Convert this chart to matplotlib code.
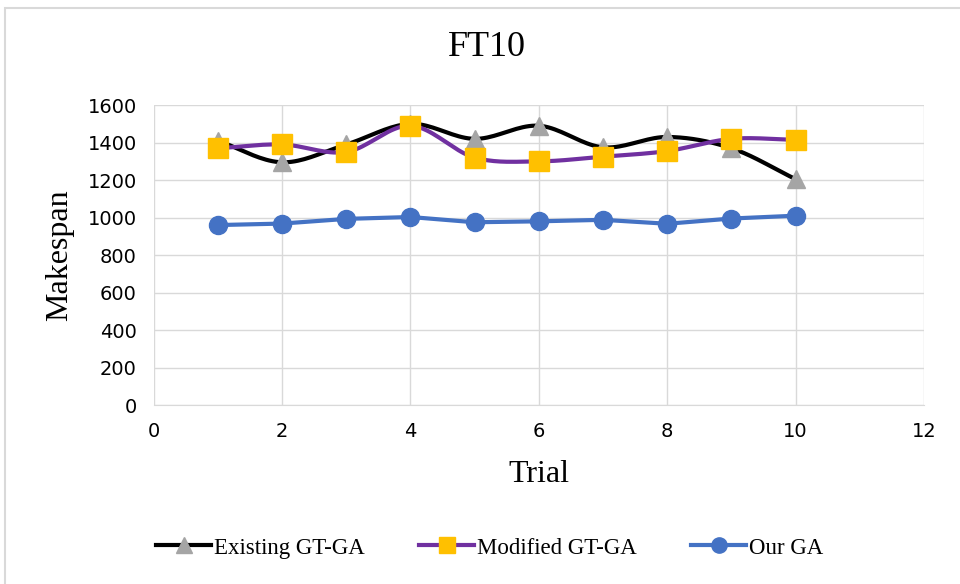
import numpy as np
import matplotlib
matplotlib.use("Agg")
import matplotlib.pyplot as plt
from matplotlib.patches import Rectangle

trials = [1, 2, 3, 4, 5, 6, 7, 8, 9, 10]
existing = [1410, 1295, 1390, 1500, 1420, 1490, 1375, 1430, 1370, 1205]
modified = [1370, 1390, 1350, 1490, 1320, 1300, 1325, 1355, 1420, 1415]
our_ga = [960, 968, 993, 1003, 975, 980, 988, 967, 995, 1010]


def smooth(xs, ys, n=20):
    # Catmull-Rom style curve through the points, like Excel's smoothed line
    x = np.asarray(xs, float)
    y = np.asarray(ys, float)
    px = np.concatenate([[2 * x[0] - x[1]], x, [2 * x[-1] - x[-2]]])
    py = np.concatenate([[2 * y[0] - y[1]], y, [2 * y[-1] - y[-2]]])
    out_x, out_y = [], []
    t = np.linspace(0, 1, n, endpoint=False)
    for i in range(1, len(px) - 2):
        for p, out in ((px, out_x), (py, out_y)):
            p0, p1, p2, p3 = p[i - 1], p[i], p[i + 1], p[i + 2]
            out.extend(0.5 * (2 * p1 + (-p0 + p2) * t
                              + (2 * p0 - 5 * p1 + 4 * p2 - p3) * t ** 2
                              + (-p0 + 3 * p1 - 3 * p2 + p3) * t ** 3))
    out_x.append(x[-1])
    out_y.append(y[-1])
    return out_x, out_y


serif = "Liberation Serif"
tickfont = ["Liberation Sans Narrow", "DejaVu Sans"]

fig = plt.figure(figsize=(9.6, 5.84), dpi=100)
ax = fig.add_axes([0.160, 0.3065, 0.8025, 0.5135])

# outer chart border (only left and top edges fall inside the image)
fig.patches.append(Rectangle((5 / 960, -0.05), 1.1, 1.05 - 8 / 584, transform=fig.transFigure,
                             fill=False, edgecolor="#d9d9d9", linewidth=1.5))

sx, sy = smooth(trials, existing)
ax.plot(sx, sy, color="black", lw=3, zorder=3)
ax.plot(trials, existing, ls="none", marker="^", ms=13, color="#a5a5a5", zorder=4)
mx, my = smooth(trials, modified)
ax.plot(mx, my, color="#7030a0", lw=3, zorder=3)
ax.plot(trials, modified, ls="none", marker="s", ms=14, color="#ffc000", zorder=5)
ax.plot(trials, our_ga, color="#4472c4", lw=3, marker="o", ms=13, zorder=3)

# legend proxies
h1, = ax.plot([], [], color="black", lw=3, marker="^", ms=11, mfc="#a5a5a5", mec="#a5a5a5")
h2, = ax.plot([], [], color="#7030a0", lw=3, marker="s", ms=11, mfc="#ffc000", mec="#ffc000")
h3, = ax.plot([], [], color="#4472c4", lw=3, marker="o", ms=11)
fig.legend([h1, h2, h3], ["Existing GT-GA", "Modified GT-GA", "Our GA"],
           loc="center", bbox_to_anchor=(0.51, 1 - 548 / 584), ncol=3, frameon=False,
           prop={"family": serif, "size": 16.5}, handlelength=2.4, handletextpad=0.1,
           columnspacing=2.4, markerfirst=True)

ax.set_xlim(0, 12)
ax.set_ylim(0, 1600)
ax.set_xticks(range(0, 13, 2))
ax.set_yticks(range(0, 1601, 200))
ax.grid(True, color="#d9d9d9", lw=1)
ax.set_axisbelow(True)
for s in ["top", "right", "left"]:
    ax.spines[s].set_visible(False)
ax.spines["bottom"].set_color("#d9d9d9")
ax.tick_params(length=0, labelsize=14, colors="#404040", pad=12)
for lab in ax.get_xticklabels() + ax.get_yticklabels():
    lab.set_family(tickfont)
    lab.set_color("black")

fig.text(487 / 960, 1 - 48 / 584, "FT10", fontfamily=serif, fontsize=26, ha="center", va="center")
ax.set_xlabel("Trial", fontfamily=serif, fontsize=23, labelpad=14)
ax.set_ylabel("Makespan", fontfamily=serif, fontsize=23, labelpad=10)

fig.savefig("out.png", dpi=100)
